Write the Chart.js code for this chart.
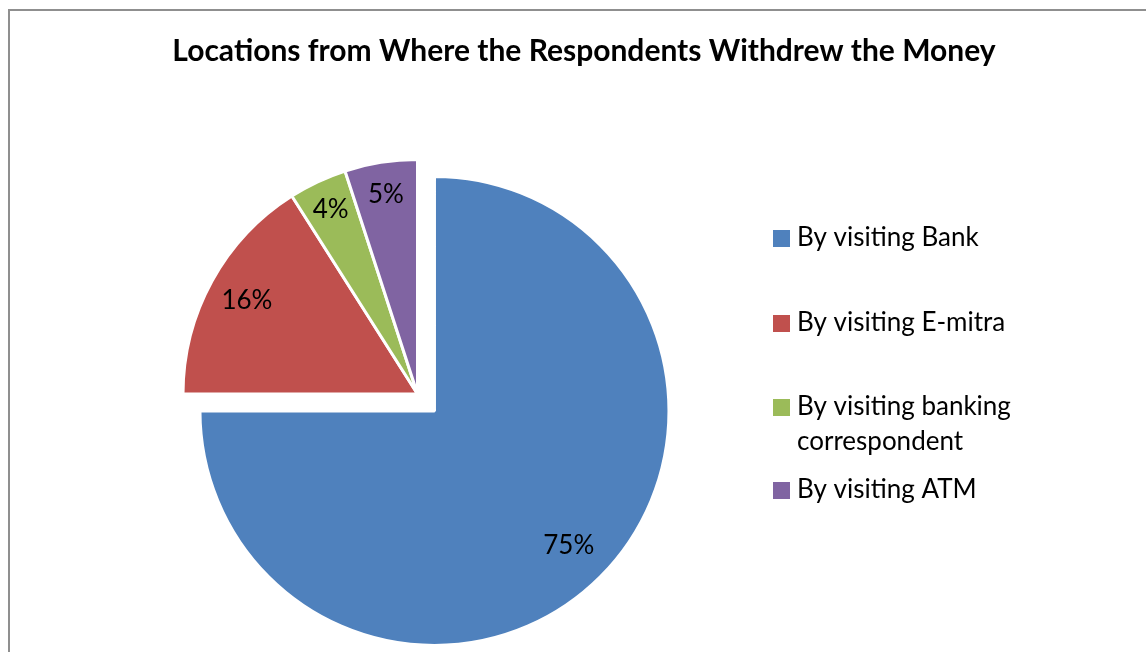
<!DOCTYPE html>
<html>
<head>
<meta charset="utf-8">
<title>Withdrawal locations</title>
<script src="https://cdn.jsdelivr.net/npm/chart.js@4.4.1/dist/chart.umd.min.js"></script>
<style>
  html, body { margin: 0; padding: 0; background: #fff; overflow: hidden; }
  #frame {
    position: absolute; left: 8px; top: 9px; width: 1200px; height: 700px;
    border: 2px solid #8f8f8f; box-sizing: border-box;
  }
  #wrap { position: absolute; left: 0; top: 0; width: 1146px; height: 652px; }
</style>
</head>
<body>
<div id="frame"></div>
<div id="wrap"><canvas id="withdrawChart" width="1146" height="652"></canvas></div>
<script>
// ---- data ----
const chartTitle = "Locations from Where the Respondents Withdrew the Money";
const categories = ["By visiting Bank", "By visiting E-mitra", "By visiting banking correspondent", "By visiting ATM"];
const legendLines = [["By visiting Bank"], ["By visiting E-mitra"], ["By visiting banking", "correspondent"], ["By visiting ATM"]];
const shares = [75, 16, 4, 5];
const sliceColors = ["#4f81bd", "#c0504d", "#9bbb59", "#8064a2"];

const FONT = "Lato, 'Open Sans', sans-serif";

// pulled-out distance (px) per slice; Chart.js' own `offset` also grows big arcs,
// so the slice is moved by wrapping its draw call instead
const explode = [24, 0, 0, 0];
const labelRadius = [0.81, 0.83, 0.87, 0.86];

function midAngle(arc) {
  const { startAngle, endAngle } = arc.getProps(["startAngle", "endAngle"], true);
  return (startAngle + endAngle) / 2;
}

const explodePlugin = {
  id: "explodeSlices",
  beforeDatasetsDraw(chart) {
    chart.getDatasetMeta(0).data.forEach((arc, i) => {
      if (!explode[i] || arc._exploded) return;
      const baseDraw = arc.draw;
      arc.draw = function (ctx, area) {
        const a = midAngle(this);
        ctx.save();
        ctx.translate(Math.cos(a) * explode[i], Math.sin(a) * explode[i]);
        baseDraw.call(this, ctx, area);
        ctx.restore();
      };
      arc._exploded = true;
    });
  }
};

// percentage labels inside each slice
const sliceLabelPlugin = {
  id: "sliceLabels",
  afterDatasetsDraw(chart) {
    const { ctx } = chart;
    const meta = chart.getDatasetMeta(0);
    ctx.save();
    ctx.font = `26px ${FONT}`;
    ctx.fillStyle = "#000";
    ctx.textAlign = "center";
    ctx.textBaseline = "middle";
    meta.data.forEach((arc, i) => {
      const { x, y, outerRadius } = arc.getProps(["x", "y", "outerRadius"], true);
      const mid = midAngle(arc);
      const r = outerRadius * labelRadius[i] + explode[i];
      ctx.fillText(shares[i] + "%", x + Math.cos(mid) * r, y + Math.sin(mid) * r);
    });
    ctx.restore();
  }
};

// title and right-hand legend
const sideTextPlugin = {
  id: "sideText",
  afterDraw(chart) {
    const { ctx } = chart;
    ctx.save();
    ctx.fillStyle = "#000";
    ctx.textBaseline = "alphabetic";
    ctx.font = `bold 30px ${FONT}`;
    ctx.textAlign = "center";
    ctx.fillText(chartTitle, 584, 61);

    const baselines = [[246], [331], [415, 450], [498]];
    ctx.font = `26px ${FONT}`;
    ctx.textAlign = "left";
    legendLines.forEach((lines, i) => {
      const b0 = baselines[i][0];
      ctx.fillStyle = sliceColors[i];
      ctx.fillRect(773, b0 - 16, 17, 17);
      ctx.fillStyle = "#000";
      lines.forEach((t, j) => ctx.fillText(t, 797, baselines[i][j]));
    });
    ctx.restore();
  }
};

new Chart(document.getElementById("withdrawChart"), {
  type: "pie",
  plugins: [explodePlugin, sliceLabelPlugin, sideTextPlugin],
  data: {
    labels: categories,
    datasets: [{
      data: shares,
      backgroundColor: sliceColors,
      borderColor: "#ffffff",
      borderWidth: 3
    }]
  },
  options: {
    responsive: false,
    animation: false,
    layout: { padding: { left: 181.5, right: 492.5, top: 158, bottom: 22 } },
    plugins: {
      legend: { display: false },
      title: { display: false },
      tooltip: { enabled: false }
    }
  }
});
</script>
</body>
</html>
